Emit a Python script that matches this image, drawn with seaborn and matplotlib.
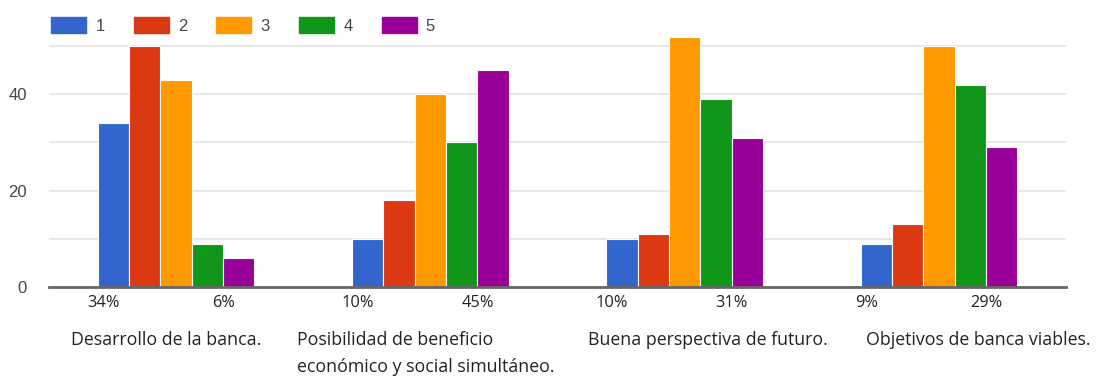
import matplotlib
matplotlib.use("Agg")
import matplotlib.pyplot as plt
import seaborn as sns
import pandas as pd
import numpy as np

categories = ["Desarrollo de la banca.",
              "Posibilidad de beneficio\neconómico y social simultáneo.",
              "Buena perspectiva de futuro.",
              "Objetivos de banca viables."]
series_names = ["1", "2", "3", "4", "5"]
s1 = [34, 10, 10, 9]
s2 = [50, 18, 11, 13]
s3 = [43, 40, 52, 50]
s4 = [9, 30, 39, 42]
s5 = [6, 45, 31, 29]
colors = ["#3366CC", "#DC3912", "#FF9900", "#109618", "#990099"]

rows = []
for name, vals in zip(series_names, [s1, s2, s3, s4, s5]):
    for c, v in zip(categories, vals):
        rows.append({"cat": c, "serie": name, "valor": v})
df = pd.DataFrame(rows)

sns.set_theme(style="white")
plt.rcParams['font.family'] = ['Liberation Sans', 'DejaVu Sans']

fig = plt.figure(figsize=(10.96, 3.79), dpi=100)
ax = fig.add_axes([0.0447, 0.243, 0.928, 0.667])

sns.barplot(data=df, x="cat", y="valor", hue="serie", palette=colors,
            width=0.615, gap=0.0, edgecolor="white", linewidth=0.8,
            saturation=1, ax=ax, legend=True)

ax.set_xlim(-0.5, len(categories) - 0.5)
ax.set_ylim(0, 52.5)
ax.set_yticks([0, 10, 20, 30, 40, 50])
ax.set_yticklabels(["0", "", "20", "", "40", ""])
ax.yaxis.grid(True, color="#e3e3e3", linewidth=1.2)
ax.set_axisbelow(True)
ax.tick_params(axis='y', length=0, pad=16, labelsize=12, labelcolor="#444444")
ax.set_xticks([])
ax.set_xlabel("")
ax.set_ylabel("")
for s in ["top", "right", "left"]:
    ax.spines[s].set_visible(False)
ax.spines["bottom"].set_color("#666666")
ax.spines["bottom"].set_linewidth(2)

# percentage labels below first and last bar of each group
bw = 0.615 / 5
for i in range(len(categories)):
    xa = i - 0.3075 + bw / 2 - 0.04
    xb = i + 0.3075 - bw / 2 - 0.06
    ax.text(xa, -3.4, f"{s1[i]}%", ha="center", va="center", fontsize=11.8,
            color="#222222", family=["Open Sans", "DejaVu Sans"])
    ax.text(xb, -3.4, f"{s5[i]}%", ha="center", va="center", fontsize=11.8,
            color="#222222", family=["Open Sans", "DejaVu Sans"])

offsets = [-0.415, -0.525, -0.38, -0.285]
for i, (c, off) in enumerate(zip(categories, offsets)):
    ax.text(i + off, -9.2, c, ha="left", va="top", fontsize=12.8,
            color="#222222", linespacing=1.6, family=["Open Sans", "DejaVu Sans"])

ax.get_legend().remove()
handles = [plt.Rectangle((0, 0), 1, 1, color=col) for col in colors]
fig.legend(handles, series_names, loc="upper left", bbox_to_anchor=(0.033, 0.995),
           ncol=5, frameon=False, fontsize=12, handlelength=2.1, handleheight=1.1,
           handletextpad=0.55, columnspacing=1.75, labelcolor="#444444")

fig.savefig("out.png", dpi=100)
